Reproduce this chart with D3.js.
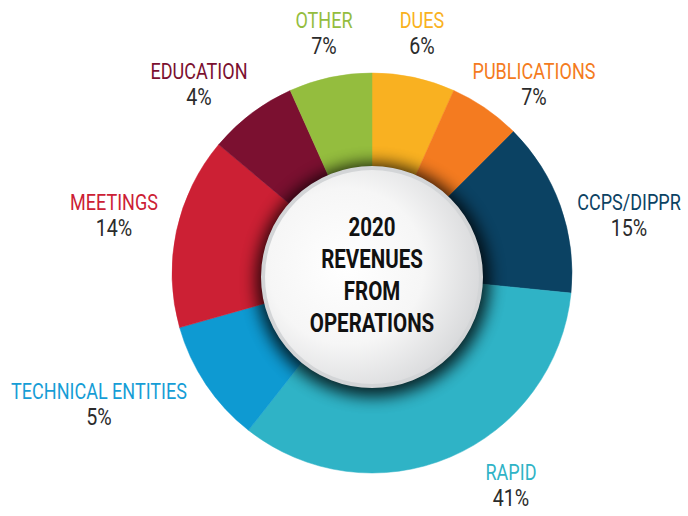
<!DOCTYPE html>
<html>
<head>
<meta charset="utf-8">
<script src="https://cdn.jsdelivr.net/npm/d3@7/dist/d3.min.js"></script>
<style>
  body { margin: 0; background: #fff; }
  svg { display: block; font-family: Roboto, "Open Sans", sans-serif; }
</style>
</head>
<body>
<svg id="svg1" width="688" height="516"></svg>
<script>
// categories, clockwise from 12 o'clock
var categories = ["DUES", "PUBLICATIONS", "CCPS/DIPPR", "RAPID", "TECHNICAL ENTITIES", "MEETINGS", "EDUCATION", "OTHER"];
// arc sizes as drawn in the picture (share of the ring, %)
var arcShares = [6.7, 5.8, 14.1, 34.0, 10.0, 15.5, 7.2, 6.7];
// printed percentages
var pctLabels = ["6%", "7%", "15%", "41%", "5%", "14%", "4%", "7%"];
var colors = ["#f9b121", "#f47b20", "#0b4263", "#2fb3c6", "#0e9ad2", "#cc2034", "#7b1030", "#94bd3e"];
var labelColors = ["#f9b121", "#f47b20", "#0b4263", "#2fb3c6", "#169dd6", "#cc2034", "#7b1030", "#94bd3e"];
var titleLines = ["2020", "REVENUES", "FROM", "OPERATIONS"];

// label anchors (offset from ring centre: centre x, baseline of name)
var labelPos = [[50, -245], [162, -194], [257, -63], [139, 207], [-273, 126], [-258, -63], [-173, -194], [-48, -245]];

var width = 688, height = 516;
var cx = 372, cy = 273;
var outerR = 200, innerR = 100;
var squeeze = 0.82;   // fake a condensed face

var svg = d3.select('#svg1');
var defs = svg.append('defs');

var blur = defs.append('filter').attr('id', 'shadow')
    .attr('x', '-50%').attr('y', '-50%').attr('width', '200%').attr('height', '200%');
blur.append('feGaussianBlur').attr('stdDeviation', 8);

var grad = defs.append('radialGradient').attr('id', 'face')
    .attr('cx', '38%').attr('cy', '45%').attr('r', '65%');
grad.append('stop').attr('offset', '0%').attr('stop-color', '#ffffff');
grad.append('stop').attr('offset', '55%').attr('stop-color', '#f6f6f6');
grad.append('stop').attr('offset', '100%').attr('stop-color', '#d6d7d9');

var data = categories.map(function(c, i) {
    return {name: c, share: arcShares[i], pct: pctLabels[i], color: colors[i], lc: labelColors[i], pos: labelPos[i]};
});

var pie = d3.pie().sort(null).value(function(d) { return d.share; });
var arc = d3.arc().innerRadius(innerR).outerRadius(outerR);

var g = svg.append('g').attr('transform', 'translate(' + cx + ',' + cy + ')');

g.selectAll('path.slice')
    .data(pie(data))
    .enter().append('path')
    .attr('class', 'slice')
    .attr('d', arc)
    .attr('fill', function(d) { return d.data.color; })
    .attr('stroke', function(d) { return d.data.color; })
    .attr('stroke-width', 0.5);

// shadow under the centre disc
g.append('circle')
    .attr('cx', 1).attr('cy', 7).attr('r', 117)
    .attr('fill', '#000').attr('opacity', 0.8)
    .attr('filter', 'url(#shadow)');

// centre disc
g.append('circle')
    .attr('cx', 0).attr('cy', 4).attr('r', 109)
    .attr('fill', 'url(#face)')
    .attr('stroke', '#d3d5d7').attr('stroke-width', 4);

var title = g.append('g').attr('transform', 'translate(0,' + (-37) + ') scale(' + squeeze + ',1)');
title.selectAll('text')
    .data(titleLines)
    .enter().append('text')
    .attr('x', 0)
    .attr('y', function(d, i) { return i * 32; })
    .attr('text-anchor', 'middle')
    .attr('font-size', 25)
    .attr('font-weight', 'bold')
    .attr('fill', '#111')
    .text(function(d) { return d; });

// outside labels
var labels = g.selectAll('g.label')
    .data(data)
    .enter().append('g')
    .attr('class', 'label')
    .attr('transform', function(d) { return 'translate(' + d.pos[0] + ',' + d.pos[1] + ') scale(' + squeeze + ',1)'; });

labels.append('text')
    .attr('text-anchor', 'middle')
    .attr('font-size', 22)
    .attr('fill', function(d) { return d.lc; })
    .text(function(d) { return d.name; });

labels.append('text')
    .attr('y', 26)
    .attr('text-anchor', 'middle')
    .attr('font-size', 24)
    .attr('fill', '#2b2b2b')
    .text(function(d) { return d.pct; });
</script>
</body>
</html>
